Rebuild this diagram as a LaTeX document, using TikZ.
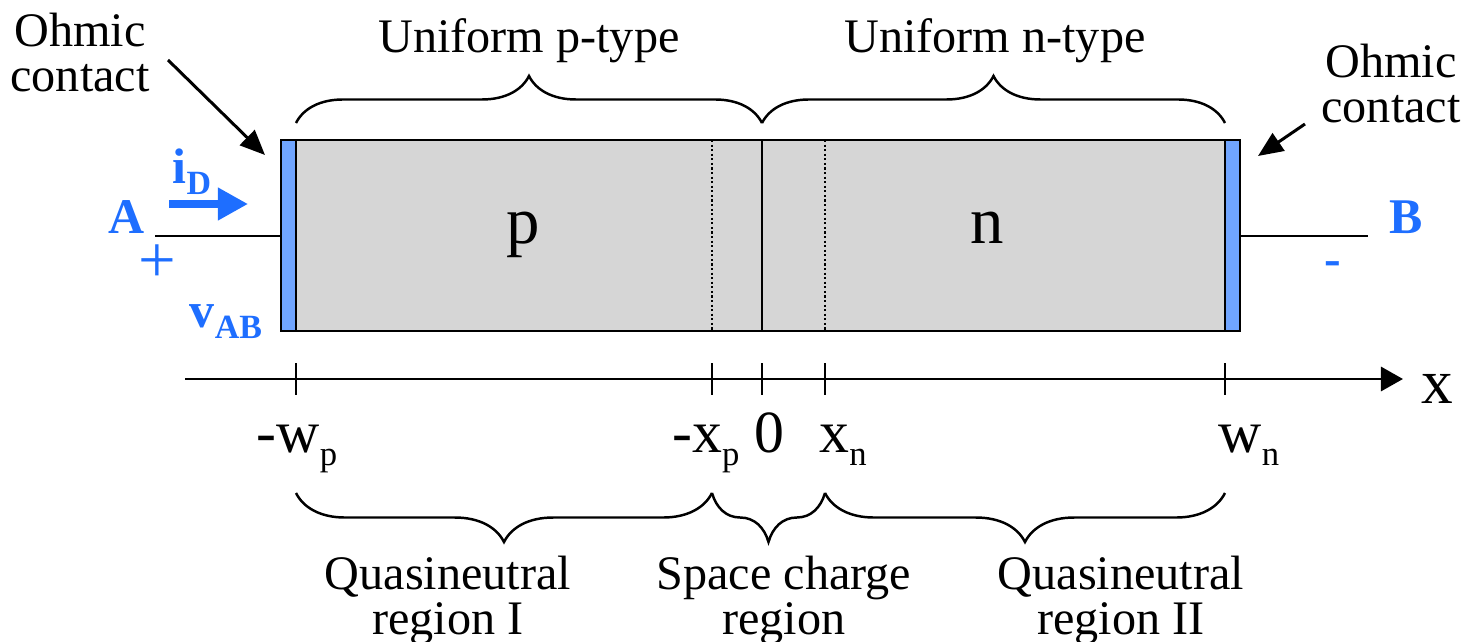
\documentclass[tikz,border=0pt]{standalone}
\usepackage{fontspec}
\setmainfont{Liberation Serif}
\usepackage{graphicx}
\usepackage{tikz}
\usetikzlibrary{arrows.meta,decorations.pathreplacing,calc,positioning}
\definecolor{termblue}{RGB}{30,110,255}
\definecolor{contactblue}{RGB}{112,165,255}
\definecolor{bulkgray}{RGB}{214,214,214}
\newcommand{\dn}[2][0.58]{\raisebox{-0.23em}{\scalebox{#1}{#2}}}
\tikzset{
	x=0.01cm, y=-0.01cm,
	lbl/.style = {font=\fontsize{13.7}{12.8}\selectfont, align=center, inner sep=0pt},
	region/.style = {font=\fontsize{19}{22}\selectfont, inner sep=0pt, anchor=base},
	ticklbl/.style = {font=\fontsize{17}{20}\selectfont, inner sep=0pt, anchor=base},
	term/.style = {text=termblue, font=\fontsize{14.2}{16}\selectfont\bfseries, inner sep=0pt},
	contact/.style = {fill=contactblue, draw=black, line width=0.85pt},
	wire/.style = {line width=0.85pt},
	bracetop/.style = {decorate, decoration={brace, amplitude=0.47cm}, line width=0.7pt},
	bracebot/.style = {decorate, decoration={brace, mirror, amplitude=0.49cm}, line width=0.7pt},
	pointer/.style = {-{Triangle[length=2.5mm, width=2.1mm]}, line width=0.85pt},
}

\begin{document}
\begin{tikzpicture}
    \useasboundingbox (0,0) rectangle (1468,642);
    \coordinate (bodyNW) at (296,140);
    \coordinate (bodySE) at (1225,331);
    \coordinate (ctLNW) at (281,140);
    \coordinate (ctRSE) at (1240,331);
    \coordinate (juncT) at (762,140);
    \coordinate (juncB) at (762,331);
    \fill[bulkgray] (bodyNW) rectangle (bodySE);
    \draw[contact] (ctLNW) rectangle (bodyNW |- bodySE);
    \draw[contact] (bodySE |- bodyNW) rectangle (ctRSE);
    \draw[line width=0.85pt] (ctLNW) rectangle (ctRSE);
    \draw[line width=0.7pt] (juncT) -- (juncB);
    \draw[line width=0.6pt, dash pattern=on 0.6pt off 0.7pt] (712,140) -- (712,331);
    \draw[line width=0.6pt, dash pattern=on 0.6pt off 0.7pt] (825,140) -- (825,331);
    \node[region] (pside) at (523,243) {p};
    \node[region] (nside) at (987,243) {n};

    \coordinate (wireA) at (155,236);
    \coordinate (wireB) at (1368,236);
    \draw[wire] (wireA) -- (wireA -| ctLNW);
    \draw[wire] (ctRSE |- wireB) -- (wireB);

    \coordinate (axS) at (185,379);
    \coordinate (axE) at (1403,379);
    \draw[line width=0.85pt, -{Triangle[length=2.2mm, width=2.4mm]}] (axS) -- (axE);
    \node[ticklbl, font=\fontsize{18}{20}\selectfont] (xlbl) at (1437,403) {x};
    \foreach \nm/\xx in {wp/296, xp/712, zero/762, xn/825, wn/1225}
      \draw[line width=0.7pt] (\xx,363) -- (\xx,395);
    \node[ticklbl] (lwp) at (297,452) {-w\dn{p}};
    \node[ticklbl] (lxp) at (706,452) {-x\dn{p}};
    \node[ticklbl] (lzero) at (769,452) {0};
    \node[ticklbl] (lxn) at (843,452) {x\dn{n}};
    \node[ticklbl] (lwn) at (1249,452) {w\dn{n}};

    \draw[bracetop] (296,123) -- (762,123);
    \draw[bracetop] (762,123) -- (1225,123);
    \node[lbl, anchor=base] (unip) at (529,52) {Uniform p-type};
    \node[lbl, anchor=base] (unin) at (995,52) {Uniform n-type};

    \draw[bracebot] (296,493) -- (712,493);
    \draw[bracebot] (712,493) -- (825,493);
    \draw[bracebot] (825,493) -- (1225,493);
    \node[lbl] (qnI) at (448,600) {Quasineutral\\region I};
    \node[lbl] (scr) at (784,600) {Space charge\\region};
    \node[lbl] (qnII) at (1121,600) {Quasineutral\\region II};

    \node[lbl] (ohmL) at (80,53) {Ohmic\\contact};
    \node[lbl] (ohmR) at (1391,84) {Ohmic\\contact};
    \coordinate (ohmLtail) at (168,60);
    \coordinate (ohmLtip) at (265,155);
    \coordinate (ohmRtail) at (1305,124);
    \coordinate (ohmRtip) at (1258,156);
    \draw[pointer] (ohmLtail) -- (ohmLtip);
    \draw[pointer] (ohmRtail) -- (ohmRtip);

    \node[term, anchor=base] (termA) at (127,233) {A};
    \node[term, anchor=base] (termB) at (1406,233) {B};
    \node[term, font=\fontsize{19}{20}\selectfont] (plus) at (157,264) {+};
    \node[term] (minus) at (1333,269) {-};
    \node[term, anchor=base] (iD) at (192,183) {i\dn[0.68]{D}};
    \node[term, anchor=base] (vAB) at (226,327) {v\dn[0.68]{AB}};
    \coordinate (iDtail) at (169,204);
    \coordinate (iDtip) at (248,204);
    \draw[termblue, line width=2pt, -{Triangle[length=3mm, width=3.1mm]}] (iDtail) -- (iDtip);
\end{tikzpicture}
\end{document}
